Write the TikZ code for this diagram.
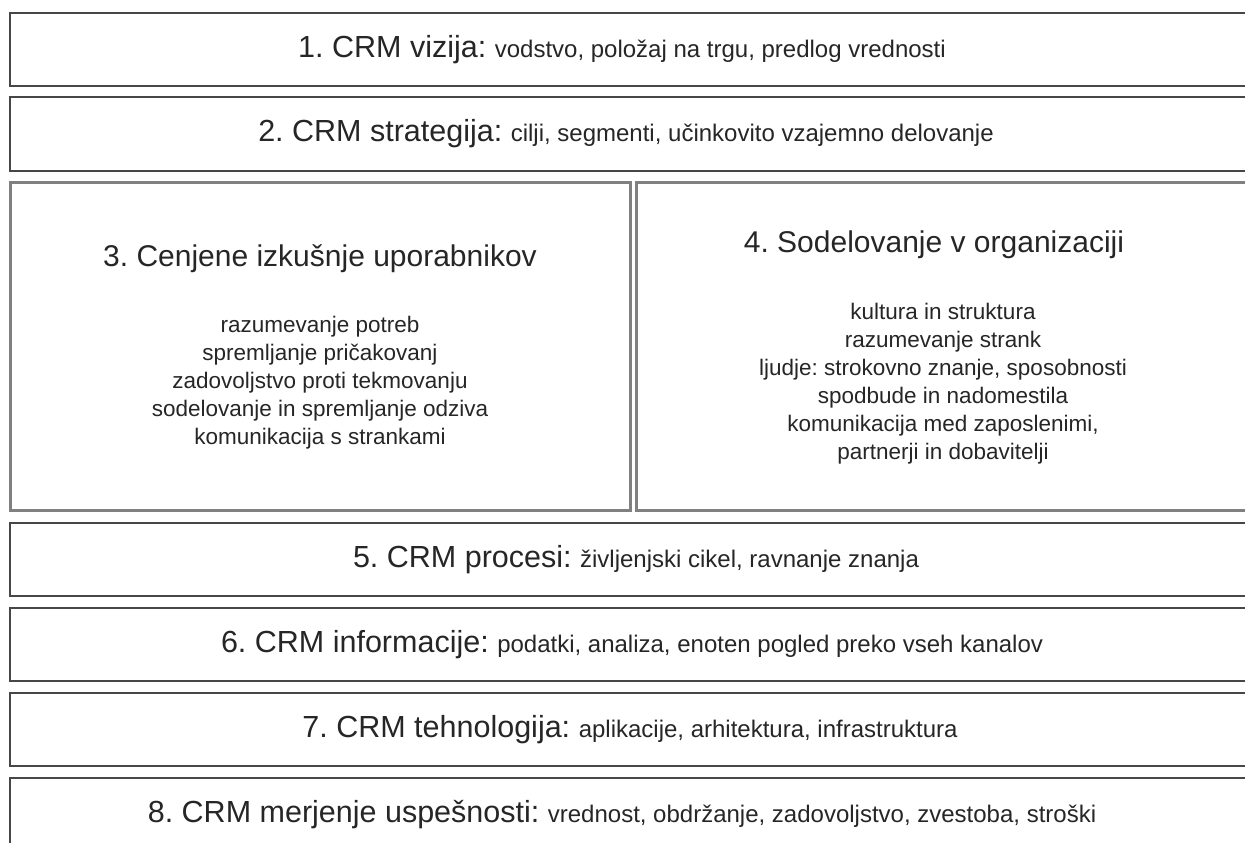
\documentclass[tikz,border=0pt]{standalone}
\usepackage{fontspec}
\setmainfont{Liberation Sans}
\frenchspacing
\newcommand{\layerlabel}[2]{{\fontsize{30.5}{36}\selectfont #1: }{\fontsize{24}{29}\selectfont #2}}
\begin{document}
\begin{tikzpicture}[x=1pt,y=-1pt,
  rowbox/.style={draw=black!72, line width=2pt, fill=white, minimum width=1240pt,
    minimum height=73pt, inner sep=0pt, text=black!85},
  bigbox/.style={draw=black!50, line width=3pt, fill=white, inner sep=0pt},
  head/.style={text=black!85, font=\fontsize{30}{36}\selectfont},
  body/.style={text=black!85, align=center, font=\fontsize{22.5}{28}\selectfont}]
\useasboundingbox (0,0) rectangle (1245,843);
\clip (0,0) rectangle (1245,843);

% stacked layers (the right ends run past the page edge)
\node[rowbox] (vision) at (630,49.5) {};
\node (visiontext) at (622,49.5) [text=black!85]
  {\layerlabel{1. CRM vizija}{vodstvo, položaj na trgu, predlog vrednosti}};
\node[rowbox, minimum height=74pt] (strategy) at (630,134) {};
\node (strategytext) at (626,134) [text=black!85]
  {\layerlabel{2. CRM strategija}{cilji, segmenti, učinkovito vzajemno delovanje}};

% two side-by-side blocks
\node[bigbox, minimum width=620pt, minimum height=328pt] (experience) at (320,346) {};
\node[bigbox, minimum width=614pt, minimum height=328pt] (collab) at (943,346) {};

\node[head] (experiencehead) at (320,259) {3. Cenjene izkušnje uporabnikov};
\node[body] (experiencebody) at (320,383) {razumevanje potreb\\spremljanje pričakovanj\\zadovoljstvo proti tekmovanju\\sodelovanje in spremljanje odziva\\komunikacija s strankami};

\node[head] (collabhead) at (934,245) {4. Sodelovanje v organizaciji};
\node[body] (collabbody) at (943,384) {kultura in struktura\\razumevanje strank\\ljudje: strokovno znanje, sposobnosti\\spodbude in nadomestila\\komunikacija med zaposlenimi,\\partnerji in dobavitelji};

\node[rowbox] (processes) at (630,559.5) {};
\node (processestext) at (636,559.5) [text=black!85]
  {\layerlabel{5. CRM procesi}{življenjski cikel, ravnanje znanja}};
\node[rowbox] (information) at (630,644.5) {};
\node (informationtext) at (632,644.5) [text=black!85]
  {\layerlabel{6. CRM informacije}{podatki, analiza, enoten pogled preko vseh kanalov}};
\node[rowbox] (technology) at (630,729.5) {};
\node (technologytext) at (630,729.5) [text=black!85]
  {\layerlabel{7. CRM tehnologija}{aplikacije, arhitektura, infrastruktura}};
\node[rowbox] (measure) at (630,814.5) {};
\node (measuretext) at (622,814.5) [text=black!85]
  {\layerlabel{8. CRM merjenje uspešnosti}{vrednost, obdržanje, zadovoljstvo, zvestoba, stroški}};
\end{tikzpicture}
\end{document}
